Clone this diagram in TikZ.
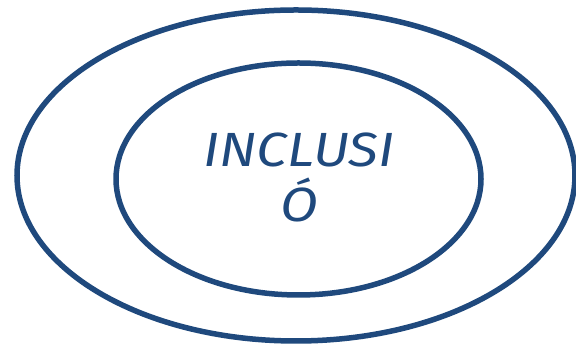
\documentclass[tikz,border=0pt]{standalone}
\usepackage{fontspec}
\setmainfont{Fira Sans}[FakeStretch=1.15]
\definecolor{rblue}{RGB}{31,73,125}
\begin{document}
\begin{tikzpicture}[x=1pt,y=1pt,
  ring/.style={draw=rblue,line width=5.5pt},
  label/.style={text=rblue,font=\fontsize{48}{55}\selectfont\itshape,align=center,inner sep=0pt}]
\useasboundingbox (0,0) rectangle (576,344);
\draw[ring] (296,168.5) ellipse [x radius=279, y radius=165.5];
\draw[ring] (298.5,165) ellipse [x radius=182.5, y radius=116];
\node[label,anchor=base] (t) at (299,122) {INCLUSI\\Ó};
\end{tikzpicture}
\end{document}
